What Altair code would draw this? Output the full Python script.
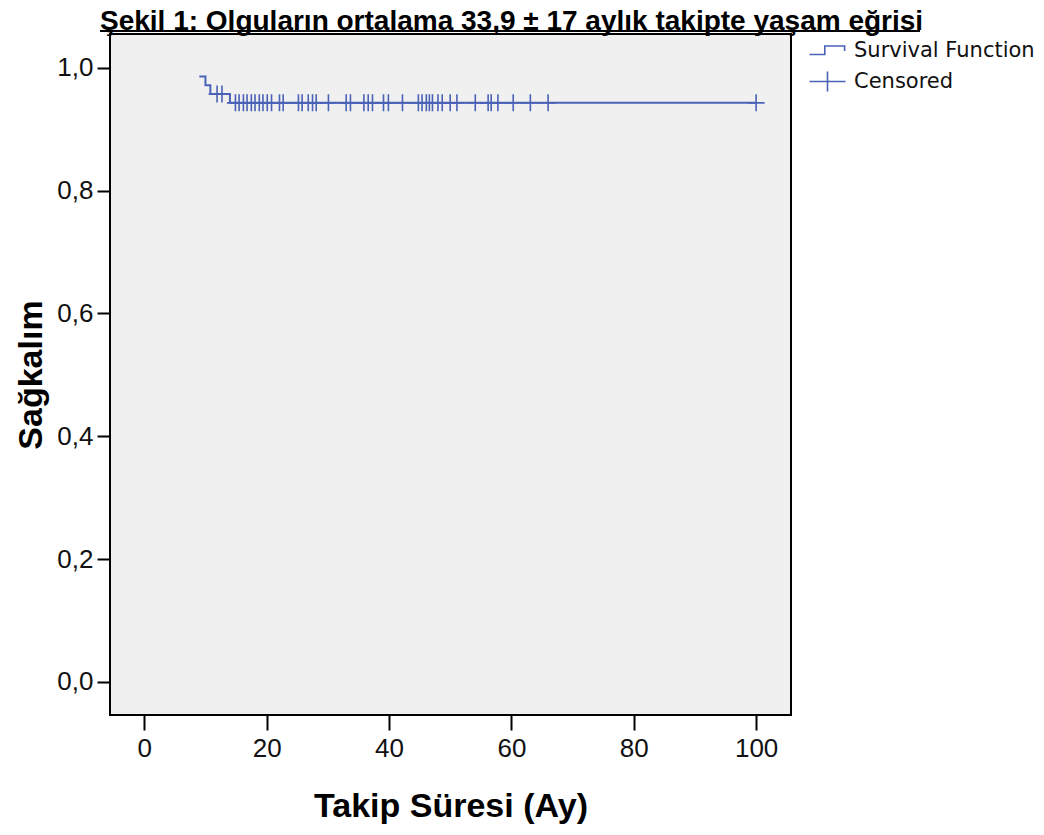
import altair as alt
import pandas as pd

# Kaplan-Meier step curve (time in months, survival)
step_times = [9.0, 10.0, 10.8, 14.0, 100.0]
step_surv = [0.9857, 0.9714, 0.9571, 0.9429, 0.9429]

# Censored observations
cens_times_mid = [11.9, 12.7]
cens_surv_mid = [0.9571, 0.9571]
cens_times_low = [14.9, 15.5, 16.2, 16.8, 17.5, 18.1, 18.8, 19.4, 20.1, 20.8,
                  22.1, 22.7, 25.2, 25.8, 26.8, 27.5, 28.1, 30.1, 33.0, 33.7,
                  35.9, 36.6, 37.3, 39.1, 39.9, 42.2, 44.8, 45.4, 46.1, 46.6,
                  47.1, 48.0, 48.7, 50.0, 51.1, 54.1, 56.2, 56.7, 57.8, 60.3,
                  63.1, 66.0, 100.0]
cens_surv_low = [0.9429] * len(cens_times_low)

legend_labels = ["Survival Function", "Censored"]
x_ticks = [0, 20, 40, 60, 80, 100]
y_ticks = [0.0, 0.2, 0.4, 0.6, 0.8, 1.0]

BLUE = "#4a62b6"
STEP_PATH = "M-2,0.45 L-0.3,0.45 L-0.3,-0.5 L1.9,-0.5 L1.9,0.05"
LEG_CROSS = "M-2,0 L2,0 M0,-1.1 L0,1.1"
DATA_CROSS = "M-1,0 L1,0 M0,-1 L0,1"
FONT = "Liberation Sans"

df_line = pd.DataFrame({"t": step_times, "s": step_surv})
df_cens = pd.DataFrame({"t": cens_times_mid + cens_times_low,
                        "s": cens_surv_mid + cens_surv_low})
df_leg = pd.DataFrame({"kind": legend_labels, "t": [0.0, 0.0], "s": [0.0, 0.0]})

x_scale = alt.Scale(domain=[-5.6, 105.7], nice=False, zero=False)
y_scale = alt.Scale(domain=[-0.054, 1.055], nice=False, zero=False)

x_enc = alt.X("t:Q", scale=x_scale, axis=alt.Axis(
    values=x_ticks, title="Takip Süresi (Ay)", tickSize=15, labelPadding=5,
    titlePadding=28))
y_enc = alt.Y("s:Q", scale=y_scale, axis=alt.Axis(
    values=y_ticks, title="Sağkalım", tickSize=13, labelPadding=4,
    labelExpr="replace(format(datum.value, '.1f'), '.', ',')", titlePadding=8))

line = alt.Chart(df_line).mark_line(
    interpolate="step-after", color=BLUE, strokeWidth=2
).encode(x=x_enc, y=y_enc)

cens = alt.Chart(df_cens).mark_point(
    shape=DATA_CROSS, size=289, filled=False, color=BLUE, strokeWidth=1.6, opacity=1
).encode(x="t:Q", y="s:Q")

legend_layer = alt.Chart(df_leg).transform_filter("false").mark_point(
    filled=False, color=BLUE, strokeWidth=1.6, opacity=1, size=324
).encode(
    x="t:Q", y="s:Q",
    shape=alt.Shape("kind:N", scale=alt.Scale(domain=legend_labels,
                                              range=[STEP_PATH, LEG_CROSS]),
                    legend=alt.Legend(title=None, orient="none", legendX=707,
                                      legendY=6, padding=0, symbolSize=324,
                                      symbolStrokeColor=BLUE,
                                      symbolFillColor="transparent",
                                      symbolStrokeWidth=1.6, labelOffset=16,
                                      rowPadding=7, labelFontSize=21,
                                      labelLimit=400,
                                      labelFont="DejaVu Sans", labelColor="#111"))
)

underline = alt.Chart(df_leg).mark_rule(color="black", strokeWidth=2).encode(
    x=alt.value(-10), x2=alt.value(810), y=alt.value(-3))

chart = alt.layer(line, cens, legend_layer, underline).properties(
    width=681, height=681,
    autosize=alt.AutoSizeParams(type="none"),
    padding={"left": 102, "top": 26, "right": 245, "bottom": 110},
    title=alt.Title("Şekil 1: Olguların ortalama 33,9 ± 17 aylık takipte yaşam eğrisi",
                    anchor="start", frame="group", dx=-10, offset=-6,
                    fontSize=28, font=FONT,
                    fontWeight="bold", color="black"),
).configure_view(
    fill="#f0f0f0", stroke="black", strokeWidth=2
).configure_axis(
    grid=False, domain=False, tickColor="black", tickWidth=2,
    labelFont=FONT, labelFontSize=26, labelColor="#111",
    titleFont=FONT, titleFontSize=34, titleFontWeight="bold",
    titleColor="black"
)

chart.save("out.html", embed_options={"renderer": "svg", "actions": False})
